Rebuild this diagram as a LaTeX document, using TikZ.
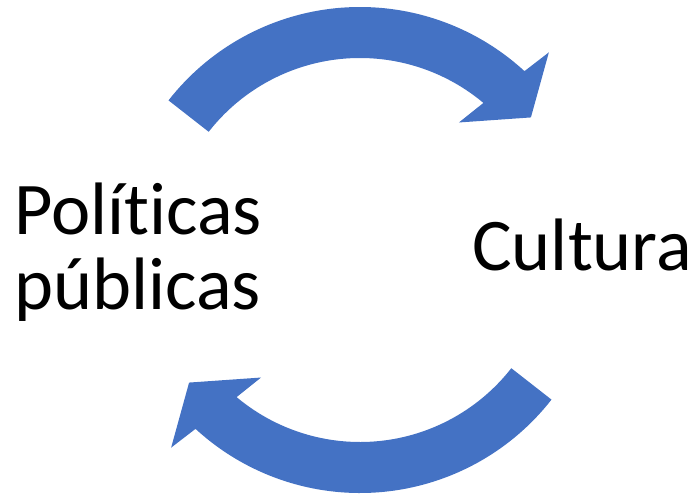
\documentclass[tikz,border=0pt]{standalone}
\usepackage{fontspec}
\setmainfont{Carlito}[Ligatures=NoCommon]
\usepackage{tikz}
\usetikzlibrary{positioning}
\definecolor{azul}{RGB}{68,114,196}
\tikzstyle{flecha} = [fill=azul, draw=none]
\tikzstyle{texto} = [inner sep=0pt, font=\fontsize{42.3}{43}\selectfont]

\begin{document}
\begin{tikzpicture}[x=0.02cm, y=0.02cm]
    % Fix the size of the picture
    \useasboundingbox (0,0) rectangle (697,495);
    \coordinate (centro) at (360,245);

    % The two curved arrows, the second one is the first turned round
    \foreach \giro in {0,180} {
        \begin{scope}[shift={(centro)}, rotate=\giro]
            \fill [flecha] (142:243) arc [start angle=142, end angle=47.4, radius=243]
                -- (46.3:273.4) -- (37.8:216.3) -- (52.2:161.4) -- (50:192)
                arc [start angle=50, end angle=142, radius=192] -- cycle;
        \end{scope}
    }

    % Then the labels
    \node [texto, anchor=west, align=left] (politicas) at (14,243) {Políticas\\públicas};
    \node [texto, anchor=base west] (cultura) at (472,225) {Cultura};
\end{tikzpicture}
\end{document}
